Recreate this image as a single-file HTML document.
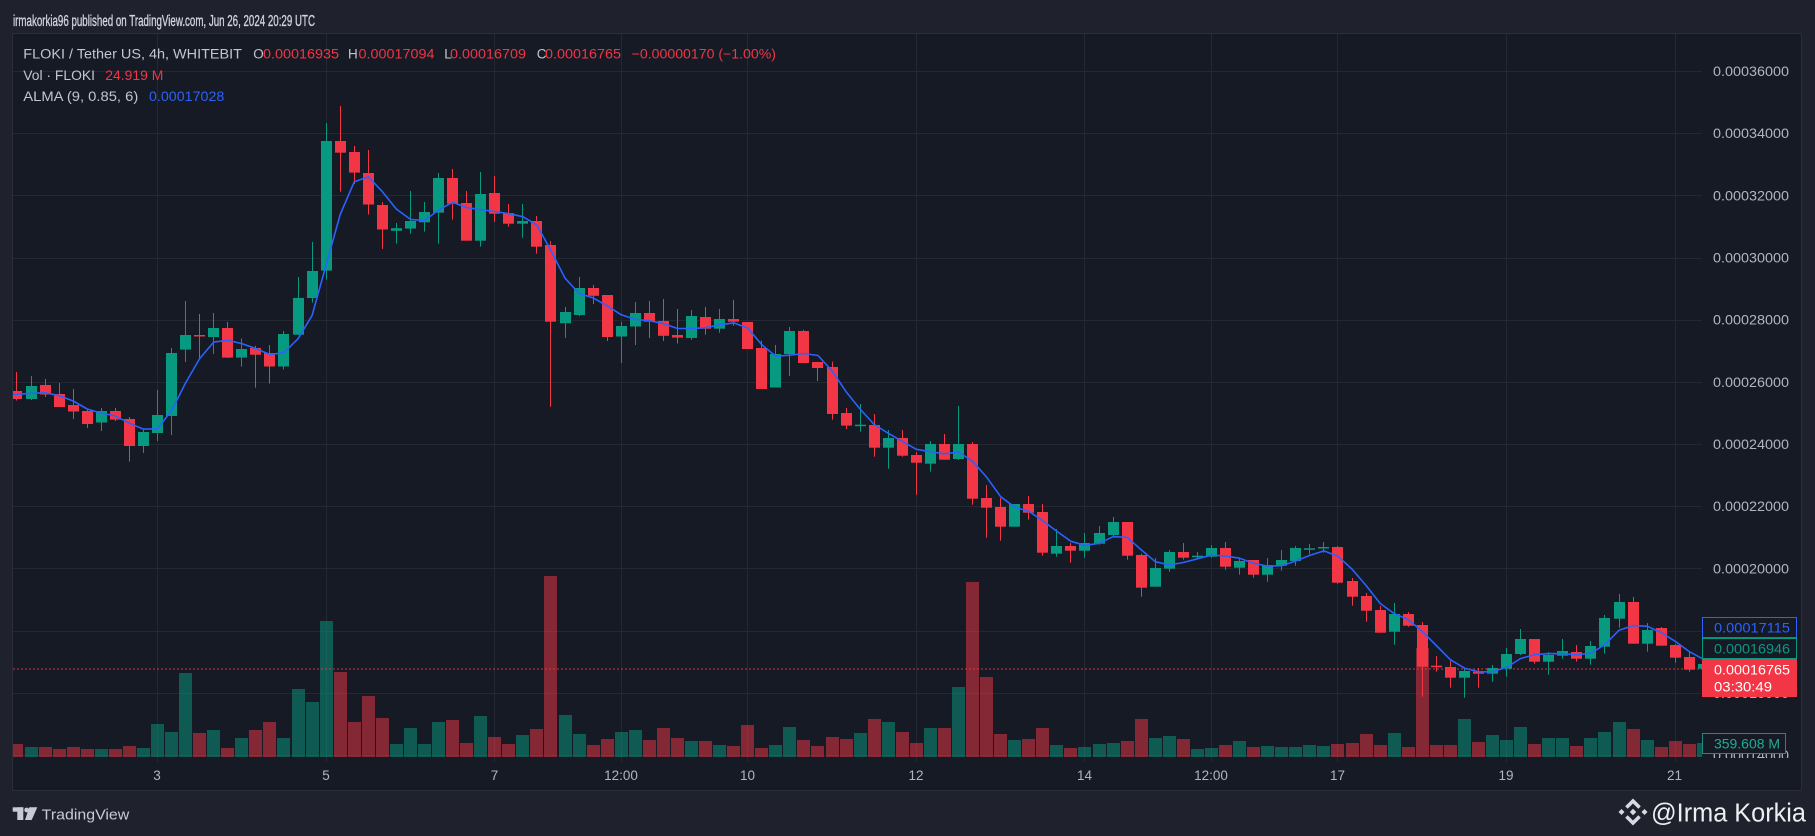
<!DOCTYPE html>
<html><head><meta charset="utf-8">
<style>
html,body{margin:0;padding:0;background:#1f222d;overflow:hidden;}
svg{display:block;}
text{font-family:"Liberation Sans",sans-serif;}
</style></head>
<body>
<svg id="s" width="1815" height="836" viewBox="0 0 1815 836" xmlns="http://www.w3.org/2000/svg">
<defs>
<clipPath id="plot"><rect x="13" y="34" width="1689" height="728"/></clipPath>
<clipPath id="axis"><rect x="1702" y="34" width="99" height="724"/></clipPath>
</defs>
<rect width="1815" height="836" fill="#1f222d"/>
<rect x="12.5" y="33.5" width="1789" height="757" fill="#161a25" stroke="#2a2e39" stroke-width="1"/>
<g id="grid" stroke="#242833" stroke-width="1"></g>
<g id="vol" clip-path="url(#plot)"></g>
<line x1="13" y1="669" x2="1702" y2="669" stroke="#f23645" stroke-width="1" stroke-dasharray="2 2" opacity="0.85"/>
<g id="candles" clip-path="url(#plot)"></g>
<path id="alma" clip-path="url(#plot)" fill="none" stroke="#2962ff" stroke-width="1.6" stroke-linejoin="round"/>

<!-- title -->
<text x="13" y="26" font-size="16" fill="#d1d4dc" textLength="302" lengthAdjust="spacingAndGlyphs" stroke="#d1d4dc" stroke-width="0.35">irmakorkia96 published on TradingView.com, Jun 26, 2024 20:29 UTC</text>

<!-- legend -->
<g font-size="13.5">
<text x="23.3" y="58.7" fill="#c3c6ce" textLength="218.7" lengthAdjust="spacingAndGlyphs">FLOKI / Tether US, 4h, WHITEBIT</text>
<text x="253.3" y="58.7" fill="#c3c6ce">O</text>
<text x="263" y="58.7" fill="#f23645" textLength="76" lengthAdjust="spacingAndGlyphs">0.00016935</text>
<text x="348" y="58.7" fill="#c3c6ce">H</text>
<text x="358.5" y="58.7" fill="#f23645" textLength="76" lengthAdjust="spacingAndGlyphs">0.00017094</text>
<text x="444.3" y="58.7" fill="#c3c6ce">L</text>
<text x="450" y="58.7" fill="#f23645" textLength="76" lengthAdjust="spacingAndGlyphs">0.00016709</text>
<text x="536.7" y="58.7" fill="#c3c6ce">C</text>
<text x="545" y="58.7" fill="#f23645" textLength="76" lengthAdjust="spacingAndGlyphs">0.00016765</text>
<text x="631.7" y="58.7" fill="#f23645" textLength="144.3" lengthAdjust="spacingAndGlyphs">−0.00000170 (−1.00%)</text>
<text x="23.3" y="80.2" fill="#c3c6ce" textLength="71.7" lengthAdjust="spacingAndGlyphs">Vol · FLOKI</text>
<text x="105.3" y="80.2" fill="#f23645" textLength="58" lengthAdjust="spacingAndGlyphs">24.919 M</text>
<text x="23.3" y="100.9" fill="#c3c6ce" textLength="115" lengthAdjust="spacingAndGlyphs">ALMA (9, 0.85, 6)</text>
<text x="149" y="100.9" fill="#2962ff" textLength="75.3" lengthAdjust="spacingAndGlyphs">0.00017028</text>
</g>

<!-- price axis labels -->
<g font-size="13.5" fill="#b2b5be" clip-path="url(#axis)">
<text x="1713" y="76" textLength="76" lengthAdjust="spacingAndGlyphs">0.00036000</text>
<text x="1713" y="138.2" textLength="76" lengthAdjust="spacingAndGlyphs">0.00034000</text>
<text x="1713" y="200.3" textLength="76" lengthAdjust="spacingAndGlyphs">0.00032000</text>
<text x="1713" y="262.5" textLength="76" lengthAdjust="spacingAndGlyphs">0.00030000</text>
<text x="1713" y="324.7" textLength="76" lengthAdjust="spacingAndGlyphs">0.00028000</text>
<text x="1713" y="386.9" textLength="76" lengthAdjust="spacingAndGlyphs">0.00026000</text>
<text x="1713" y="449" textLength="76" lengthAdjust="spacingAndGlyphs">0.00024000</text>
<text x="1713" y="511.2" textLength="76" lengthAdjust="spacingAndGlyphs">0.00022000</text>
<text x="1713" y="573.4" textLength="76" lengthAdjust="spacingAndGlyphs">0.00020000</text>
<text x="1713" y="635.6" textLength="76" lengthAdjust="spacingAndGlyphs">0.00018000</text>
<text x="1713" y="697.8" textLength="76" lengthAdjust="spacingAndGlyphs">0.00016000</text>
<text x="1713" y="760" textLength="76" lengthAdjust="spacingAndGlyphs">0.00014000</text>
</g>

<!-- price scale tags -->
<rect x="1702.5" y="617.5" width="94" height="20" fill="#161a25" stroke="#2962ff"/>
<text x="1714" y="632.3" font-size="13.5" fill="#2962ff" textLength="76" lengthAdjust="spacingAndGlyphs">0.00017115</text>
<rect x="1702.5" y="638.5" width="94" height="20" fill="#161a25" stroke="#089981"/>
<text x="1714" y="653.3" font-size="13.5" fill="#089981" textLength="76" lengthAdjust="spacingAndGlyphs">0.00016946</text>
<rect x="1702" y="659" width="95" height="38" fill="#f23645"/>
<text x="1714" y="674.3" font-size="13.5" fill="#ffffff" textLength="76" lengthAdjust="spacingAndGlyphs">0.00016765</text>
<text x="1714" y="691.7" font-size="13.5" fill="#ffffff" textLength="58" lengthAdjust="spacingAndGlyphs">03:30:49</text>
<rect x="1702.5" y="733.5" width="83" height="20" fill="#161a25" stroke="#1b8b7b"/>
<text x="1714" y="748.3" font-size="13.5" fill="#22ab94" textLength="66" lengthAdjust="spacingAndGlyphs">359.608 M</text>

<!-- time axis -->
<g font-size="13.5" fill="#b2b5be" text-anchor="middle">
<text x="157" y="780">3</text>
<text x="326" y="780">5</text>
<text x="494.5" y="780">7</text>
<text x="621" y="780">12:00</text>
<text x="747.5" y="780">10</text>
<text x="916" y="780">12</text>
<text x="1084.5" y="780">14</text>
<text x="1211" y="780">12:00</text>
<text x="1337.5" y="780">17</text>
<text x="1506" y="780">19</text>
<text x="1674.5" y="780">21</text>
</g>

<!-- bottom: TradingView logo -->
<g fill="#c8cbd3">
<rect x="12.7" y="807.3" width="10.6" height="4.4"/>
<rect x="17.3" y="807.3" width="6" height="12.7"/>
<circle cx="26.7" cy="810" r="2.4"/>
<polygon points="29.3,807.3 37.3,807.3 31.7,820 25,820"/>
</g>
<text x="41.7" y="819.3" font-size="15" fill="#c8cbd3" textLength="87.6" lengthAdjust="spacingAndGlyphs">TradingView</text>

<!-- watermark -->
<g fill="#d8dadf">
<polygon points="1621.5,809 1624.5,812 1621.5,815 1618.5,812"/>
<polygon points="1644.5,809 1647.5,812 1644.5,815 1641.5,812"/>
<polygon points="1633,808.8 1636.2,812 1633,815.2 1629.8,812"/>
<polygon points="1633,798.5 1640.8,806.3 1638.3,808.8 1633,803.5 1627.7,808.8 1625.2,806.3"/>
<polygon points="1633,825.5 1640.8,817.7 1638.3,815.2 1633,820.5 1627.7,815.2 1625.2,817.7"/>
</g>
<text x="1651" y="821.5" font-size="25.5" fill="#eceef2" textLength="155" lengthAdjust="spacingAndGlyphs">@Irma Korkia</text>
</svg>
<script>
(function(){
var NS="http://www.w3.org/2000/svg";
function el(p,tag,attrs){var e=document.createElementNS(NS,tag);for(var k in attrs)e.setAttribute(k,attrs[k]);p.appendChild(e);return e;}
var g=document.getElementById('grid');
for(var k=0;k<12;k++){var y=Math.round(71+k*62.17)+0.5;el(g,'line',{x1:13,y1:y,x2:1702,y2:y});}
[0,12,24,33,42,54,66,75,84,96,108].forEach(function(i){var x=Math.round(157+14.053*i)+0.5;el(g,'line',{x1:x,y1:34,x2:x,y2:762});});
var D=[
[-10,391,372,400.5,399,744],[-9,399,376,400,386,747],[-8,385,379,397,394.5,747],[-7,394,383,407,407,749],
[-6,405,389,419,411.5,747],[-5,411,410,428,424,749],[-4,422.5,408,431,411,749],[-3,411,408,421,419.6,749],
[-2,419,417,461.6,446,746],[-1,446,430,453,432,748],[0,433,390,441,415,724],[1,416,348,435,353,732],
[2,349.6,301,362,335,673],[3,335,314,360,336,733],[4,337,313,354,328,730],[5,328,322,358,357.6,748],
[6,357.6,338.5,366.5,349,738],[7,348,345.7,387.7,354.7,730],[8,353,345,383.5,366.5,722],[9,366.5,331,369.5,334,738],
[10,334.7,277,335,298,689],[11,298,242,302.5,271,702],[12,270.6,123,279.6,141,621],[13,141,106,191.7,152.7,672],
[14,152,146,184,172.6,722],[15,173,150,214.6,204.5,696],[16,205,202,249,229.5,718],[17,230.8,223,243.5,228.2,744],
[18,228.6,191,233.7,221,728],[19,222.3,202,231.6,212,744],[20,212.7,173,243.7,178,722],[21,178,169,219.7,203.7,720],
[22,203,191,240.7,240.7,743],[23,240.7,172,246.7,194,716],[24,193,176,221.7,213.7,737],[25,213,204,226.7,223.7,744],
[26,223.7,204,237.7,221,735],[27,221,216,253.7,246.7,729],[28,245,241,406.8,321.7,576],[29,323.2,307,338,312,715],
[30,315,277,316,288,734],[31,288,285,304,295.8,745],[32,295,295,341,337,739],[33,336.5,321.7,363,326,732],
[34,326.5,302,345,313,730],[35,313,301,338,321.7,740],[36,321,299,341,335.8,728],[37,335,309,343.5,337.6,738],
[38,338,310,340,316,741],[39,317,307,334.6,328.7,741],[40,328.7,309,332.8,319,745],[41,319,300,325.8,321.7,746],
[42,322,322,349,349,725],[43,348,340.6,389,389,748],[44,387.5,345,387.5,354,745],[45,354,327,376,331,727],
[46,331,329.8,363,363,740],[47,362,362,381,368,746],[48,367,361.6,419.7,414,737],[49,413,408,429,425.6,739],
[50,425.5,404,431.7,424.7,733],[51,425,414,456.7,447.7,719],[52,447.7,430,468.7,438,722],[53,438,430,456.7,455.7,732],
[54,455,452,494.7,462.7,743],[55,463.7,441,471.7,444,728],[56,444,434,459.7,459.7,728],[57,459,406,460,444,687],
[58,444,442,504.7,498.7,582],[59,498,485,537.7,507.7,677],[60,507,498,540.7,526.7,734],[61,526.7,504,526.7,504,740],
[62,504,496,519.7,512.7,739],[63,512,504,555.7,552.7,728],[64,553.7,529,556.7,546,745],[65,546,543,562.7,550.7,748],
[66,550.7,533,557.7,543,747],[67,543.7,526,544.7,533,744],[68,535,517,536,522,743],[69,522,522,559.7,555.7,741],
[70,555,553.7,596.7,587.7,719],[71,586.7,558,586.7,568,738],[72,568.7,550,571.7,552,736],[73,552,543,559.7,557.7,739],
[74,556.7,552,558.3,555.7,749],[75,556.7,545,557.7,548,748],[76,548,542,569.7,566.7,745],[77,567.7,558,574.7,561,741],
[78,560,560,577.7,574.7,747],[79,574.7,558,581.7,565,746],[80,565.7,550,570.7,560,747],[81,561,546,565.7,548,747],
[82,549,544,554.3,548.3,745],[83,547.7,542,552.7,547,746],[84,547,546,583.7,582.7,744],[85,581,578,605.7,596.7,743],
[86,596,593,621.7,610.7,734],[87,610,606,632.7,632.7,745],[88,631.7,603,644.7,614,733],[89,614,612,626.7,625.7,747],
[90,625,622,696.7,666.7,648],[91,665.7,656,671.7,666.7,745],[92,667,660.7,687.7,677.7,745],[93,677.7,667.7,697.7,671,719],
[94,671.7,668,687.7,673.7,742],[95,673.7,665,681.7,668,735],[96,668.7,648,676.7,654,740],[97,654,629,655,639,727],
[98,639,639,663.7,661.7,744],[99,661.7,652,674.7,655,738],[100,655.7,639,658.7,651,738],[101,652,645,661.7,658.7,746],
[102,658.7,641,664.7,646,738],[103,646.7,615,653.7,618,732],[104,618.7,594,627.7,602,722],[105,602,597,643.7,643.7,729],
[106,643.7,623,651.7,630,740],[107,628,627,645.7,645.7,747],[108,645,644,662.7,657.7,741],[109,657,651,671.7,669.7,744],
[110,668.7,663,669,664,743]
];
var GREEN="#089981",RED="#f23645",VG="rgba(8,153,129,0.5)",VR="rgba(242,54,69,0.5)";
var vg=document.getElementById('vol'),cg=document.getElementById('candles');
var base=757;
D.forEach(function(d){
  var i=d[0],o=d[1],h=d[2],l=d[3],c=d[4],v=d[5];
  var cx=157+14.053*i, px=Math.round(cx);
  var up=c<=o;
  el(vg,'rect',{x:px-6,y:v,width:13,height:Math.max(1,base-v),fill:up?VG:VR});
  var col=up?GREEN:RED;
  el(cg,'rect',{x:px,y:h,width:1,height:Math.max(1,l-h),fill:col});
  var top=Math.min(o,c),bot=Math.max(o,c);
  el(cg,'rect',{x:px-5,y:top,width:11,height:Math.max(1.5,bot-top),fill:col});
});
var L=9,m=0.85*(L-1),s=L/6,w=[],norm=0;
for(var k=0;k<L;k++){var ww=Math.exp(-Math.pow(k-m,2)/(2*s*s));w.push(ww);norm+=ww;}
var closes=[];for(var p=0;p<8;p++)closes.push(393);
D.forEach(function(d){closes.push(d[4]);});
var pts=[];
for(var j=8;j<closes.length;j++){
  var sum=0;for(var k=0;k<L;k++)sum+=closes[j-8+k]*w[k];
  var val=sum/norm;var i=D[j-8][0];
  pts.push([157+14.053*i+0.5,val]);
}
pts.unshift([pts[0][0]-14.053,pts[0][1]]);
var dstr="M"+pts.map(function(q){return q[0].toFixed(1)+","+q[1].toFixed(1);}).join(" L");
document.getElementById('alma').setAttribute('d',dstr);
})();
</script>
</body></html>
